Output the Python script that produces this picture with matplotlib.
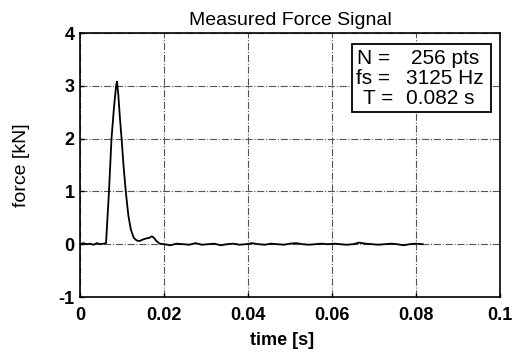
import matplotlib
matplotlib.use("Agg")
import matplotlib.pyplot as plt
from matplotlib.patches import Rectangle

time_s = [0.0, 0.0008, 0.0016, 0.0024, 0.0032, 0.004, 0.0048, 0.0056, 0.0062,
          0.0069, 0.0075, 0.0081, 0.0086, 0.0088, 0.0091, 0.0095, 0.0099,
          0.0104, 0.0109, 0.0115, 0.0121, 0.0128, 0.0135, 0.0142, 0.0150,
          0.0158, 0.0165, 0.0171, 0.0176, 0.0182, 0.0190, 0.0200, 0.0215,
          0.0230, 0.0245, 0.0260, 0.0275, 0.0290, 0.0305, 0.0320, 0.0335,
          0.0350, 0.0365, 0.0380, 0.0395, 0.0410, 0.0425, 0.0440, 0.0455,
          0.0470, 0.0485, 0.0500, 0.0515, 0.0530, 0.0545, 0.0560, 0.0575,
          0.0590, 0.0605, 0.0620, 0.0635, 0.0650, 0.0665, 0.0680, 0.0695,
          0.0710, 0.0725, 0.0740, 0.0755, 0.0770, 0.0785, 0.0800, 0.0816]
force_kN = [0.00, 0.02, 0.00, 0.01, -0.01, 0.02, 0.00, 0.01, 0.02,
            1.00, 2.00, 2.60, 3.00, 3.08, 2.85, 2.40, 2.00,
            1.45, 1.00, 0.55, 0.28, 0.12, 0.07, 0.06, 0.09,
            0.11, 0.12, 0.15, 0.12, 0.06, 0.01, 0.00, -0.02,
            0.01, 0.00, -0.01, 0.02, -0.01, 0.00, 0.01, -0.02,
            0.00, 0.01, -0.01, 0.00, 0.02, 0.00, -0.01, 0.01,
            0.00, -0.01, 0.01, 0.02, 0.00, -0.01, 0.00, 0.01,
            0.00, 0.01, 0.00, -0.01, 0.00, 0.03, 0.01, 0.00,
            -0.01, 0.00, 0.01, 0.00, -0.02, 0.00, 0.01, 0.00]

x_ticks = [0, 0.02, 0.04, 0.06, 0.08, 0.1]
x_tick_labels = ["0", "0.02", "0.04", "0.06", "0.08", "0.1"]
y_ticks = [-1, 0, 1, 2, 3, 4]
y_tick_labels = ["-1", "0", "1", "2", "3", "4"]
info_labels = ["N =", "fs =", "T ="]
info_values = ["256 pts", "3125 Hz", "0.082 s"]

plt.rcParams['font.family'] = ['Liberation Sans', 'DejaVu Sans']

W, H = 520, 354
fig = plt.figure(figsize=(W / 100, H / 100), dpi=100)
ax = fig.add_axes([80 / W, 1 - 297 / H, 420 / W, 264 / H])

ax.plot(time_s, force_kN, color='black', linewidth=1.3, zorder=3)
ax.set_xlim(0, 0.1)
ax.set_ylim(-1, 4)
ax.set_xticks(x_ticks)
ax.set_xticklabels(x_tick_labels, fontsize=13, fontweight='bold')
ax.set_yticks(y_ticks)
ax.set_yticklabels(y_tick_labels, fontsize=13, fontweight='bold')
ax.tick_params(axis='x', direction='in', length=3, width=1, pad=7)
ax.tick_params(axis='y', direction='in', length=3, width=1, pad=4)
ax.grid(True, color='#555555', linestyle='-.', linewidth=0.8)
for s in ax.spines.values():
    s.set_linewidth(1.2)

ax.set_title("Measured Force Signal", fontsize=14, pad=6)
ax.set_xlabel("time [s]", fontsize=13, fontweight='bold')
ax.xaxis.set_label_coords((282 - 80) / 420, (297 - 332) / 264)
ax.set_ylabel("force [kN]", fontsize=14)
ax.yaxis.set_label_coords((30 - 80) / 420, 0.5)

# info box (pixel positions converted to data coordinates)
def px_x(px):
    return (px - 80) / 420 * 0.1

def px_y(py):
    return 4 - (py - 33) / 264 * 5

box = Rectangle((px_x(352), px_y(112)), px_x(491) - px_x(352),
                px_y(44) - px_y(112), facecolor='white', edgecolor='black',
                linewidth=1.3, zorder=4)
ax.add_patch(box)
label_x = [357, 356, 363]
value_x = [479, 484, 474]
line_y = [59, 78, 99]
for lab, val, lx, vx, ly in zip(info_labels, info_values, label_x, value_x, line_y):
    ax.text(px_x(lx), px_y(ly), lab, fontsize=15, ha='left', va='center',
            zorder=5)
    ax.text(px_x(vx), px_y(ly), val, fontsize=15, ha='right', va='center',
            zorder=5)

fig.savefig("out.png", dpi=100)
